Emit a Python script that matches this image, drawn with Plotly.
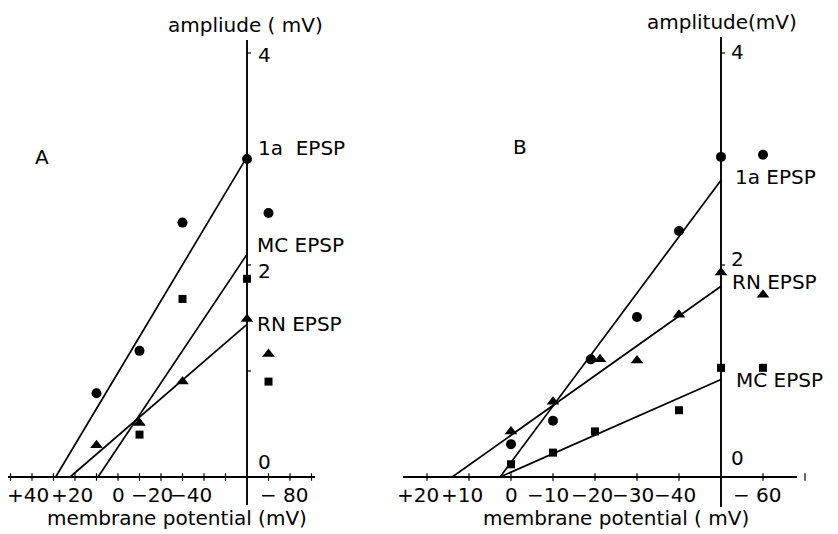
import plotly.graph_objects as go

# ---------------- data ----------------
# Panel A
a_1a_x = [-60, -70, -30, -10, 10]
a_1a_y = [3.00, 2.49, 2.40, 1.19, 0.79]
a_mc_x = [-60, -70, -30, -10]
a_mc_y = [1.87, 0.90, 1.68, 0.40]
a_rn_x = [-60, -70, -30, -10, 10]
a_rn_y = [1.49, 1.16, 0.90, 0.51, 0.30]
# fitted lines panel A (endpoints)
a_fit_1a_x = [29, -60]
a_fit_1a_y = [0, 3.02]
a_fit_mc_x = [9.3, -60]
a_fit_mc_y = [0, 2.10]
a_fit_rn_x = [22.3, -60]
a_fit_rn_y = [0, 1.44]

# Panel B
b_1a_x = [-50, -60, -40, -30, -19, -10, 0]
b_1a_y = [3.02, 3.04, 2.32, 1.51, 1.11, 0.53, 0.31]
b_mc_x = [-50, -60, -40, -20, -10, 0]
b_mc_y = [1.03, 1.03, 0.63, 0.43, 0.23, 0.12]
b_rn_x = [-50, -60, -40, -30, -19.3, -21.2, -10, 0]
b_rn_y = [1.93, 1.72, 1.53, 1.10, 1.11, 1.11, 0.71, 0.43]
b_fit_1a_x = [2.6, -50]
b_fit_1a_y = [0, 2.80]
b_fit_mc_x = [2.6, -50]
b_fit_mc_y = [0, 0.92]
b_fit_rn_x = [14, -50]
b_fit_rn_y = [0, 1.80]

# axes / ticks
a_xtick_vals = [40, 20, 0, -20, -40, -80]
a_xtick_text = ["+40", "+20", "0", "\u221220", "\u221240", "\u2212 80"]
b_xtick_vals = [20, 10, 0, -10, -20, -30, -40, -60]
b_xtick_text = ["+20", "+10", "0", "\u221210", "\u221220", "\u221230", "\u221240", "\u2212 60"]
ytick_vals = [0, 2, 4]
ytick_text = ["0", "2", "4"]
ytick_minor = [1, 2, 3, 4]
a_yaxis_at = -60
b_yaxis_at = -50

# ---------------- layout constants (pixels) ----------------
W, H = 838, 534
Y0PX, YPX = 477, 106.0           # y=0 pixel row, px per mV
A_X0PX, A_XPX = 118, 2.15        # panel A: px of x=0, px per mV
B_X0PX, B_XPX = 511, 4.2         # panel B
SPLIT = 377                      # pixel column splitting the two subplots

def xr(x0px, xpx, lpx, rpx):
    return [(x0px - lpx) / xpx, (x0px - rpx) / xpx]

yrange = [(Y0PX - H) / YPX, Y0PX / YPX]
FONT = "DejaVu Sans"
fs = 20

fig = go.Figure()

def add_panel(xa, fits, pts):
    for fx, fy in fits:
        fig.add_trace(go.Scatter(x=fx, y=fy, mode="lines", xaxis=xa, yaxis="y",
                                 line=dict(color="black", width=1.7),
                                 showlegend=False, hoverinfo="skip"))
    for (px_, py_, sym, sz) in pts:
        fig.add_trace(go.Scatter(x=px_, y=py_, mode="markers", xaxis=xa, yaxis="y",
                                 marker=dict(symbol=sym, size=sz, color="black"),
                                 showlegend=False, cliponaxis=False))

add_panel("x",
          [(a_fit_1a_x, a_fit_1a_y), (a_fit_mc_x, a_fit_mc_y), (a_fit_rn_x, a_fit_rn_y)],
          [(a_1a_x, a_1a_y, "circle", 10), (a_mc_x, a_mc_y, "square", 8),
           (a_rn_x, a_rn_y, "triangle-up", 11)])
add_panel("x2",
          [(b_fit_1a_x, b_fit_1a_y), (b_fit_mc_x, b_fit_mc_y), (b_fit_rn_x, b_fit_rn_y)],
          [(b_1a_x, b_1a_y, "circle", 10), (b_mc_x, b_mc_y, "square", 8),
           (b_rn_x, b_rn_y, "triangle-up", 11)])

shapes = []
annotations = []

def line(xref, x0, y0, x1, y1, w=1.9):
    shapes.append(dict(type="line", xref=xref, yref="y", x0=x0, y0=y0, x1=x1, y1=y1,
                       line=dict(color="black", width=w)))

def text(xref, x, y, t, xanchor="center", yanchor="middle", xshift=0, yshift=0, size=fs):
    annotations.append(dict(xref=xref, yref="y", x=x, y=y, text=t, showarrow=False,
                            xanchor=xanchor, yanchor=yanchor, xshift=xshift, yshift=yshift,
                            font=dict(family=FONT, size=size, color="black")))

def ypx(p):
    return (Y0PX - p) / YPX

# ---- panel A axes
axA = "x"
xa = lambda p: (A_X0PX - p) / A_XPX
line(axA, xa(8), 0, xa(315), 0)
line(axA, a_yaxis_at, ypx(40), a_yaxis_at, ypx(505))
for v in range(50, -91, -10):
    if v != a_yaxis_at:
        line(axA, v, -0.035, v, 0.035, 1.2)
for v in ytick_minor:
    line(axA, a_yaxis_at, v, a_yaxis_at - 4 / A_XPX, v, 1.2)
a_shift = [None, -3, 0, -9, -13, -6]
for v, t, s in zip(a_xtick_vals, a_xtick_text, a_shift):
    if s is None:
        text(axA, xa(5), ypx(495), t, xanchor="left")
    else:
        text(axA, v, ypx(495), t, xshift=s)
for v, t, yp in zip(ytick_vals, ytick_text, [462, 271, 55]):
    text(axA, a_yaxis_at, ypx(yp), t, xanchor="left", xshift=9)
text(axA, xa(245), ypx(25), "ampliude ( mV)")
text(axA, xa(177), ypx(518), "membrane potential (mV)")
text(axA, xa(42), ypx(157), "A")
text(axA, a_yaxis_at, ypx(148), "1a  EPSP", xanchor="left", xshift=9)
text(axA, a_yaxis_at, ypx(245), "MC EPSP", xanchor="left", xshift=8)
text(axA, a_yaxis_at, ypx(324), "RN EPSP", xanchor="left", xshift=8)

# ---- panel B axes
axB = "x2"
xb = lambda p: (B_X0PX - p) / B_XPX
line(axB, xb(403), 0, xb(797), 0)
line(axB, b_yaxis_at, ypx(37), b_yaxis_at, ypx(507))
for v in range(20, -71, -10):
    if v != b_yaxis_at:
        line(axB, v, -0.035, v, 0.035, 1.2)
for v in ytick_minor:
    line(axB, b_yaxis_at, v, b_yaxis_at - 4 / B_XPX, v, 1.2)
b_shift = [-9, -7, 0, -5, -3, -4, -4, -6]
for v, t, s in zip(b_xtick_vals, b_xtick_text, b_shift):
    text(axB, v, ypx(495), t, xshift=s)
for v, t, yp in zip(ytick_vals, ytick_text, [458, 259, 52]):
    text(axB, b_yaxis_at, ypx(yp), t, xanchor="left", xshift=8)
text(axB, xb(722), ypx(22), "amplitude(mV)")
text(axB, xb(616), ypx(518), "membrane potential ( mV)")
text(axB, xb(520), ypx(147), "B")
text(axB, b_yaxis_at, ypx(177), "1a EPSP", xanchor="left", xshift=12)
text(axB, b_yaxis_at, ypx(282), "RN EPSP", xanchor="left", xshift=9)
text(axB, b_yaxis_at, ypx(380), "MC EPSP", xanchor="left", xshift=13)

hidden = dict(visible=False, showgrid=False, zeroline=False, fixedrange=True)
fig.update_layout(
    width=W, height=H,
    margin=dict(l=0, r=0, t=0, b=0),
    paper_bgcolor="white", plot_bgcolor="white",
    xaxis=dict(domain=[0, SPLIT / W], range=xr(A_X0PX, A_XPX, 0, SPLIT), anchor="y", **hidden),
    xaxis2=dict(domain=[SPLIT / W, 1], range=xr(B_X0PX, B_XPX, SPLIT, W), anchor="y", **hidden),
    yaxis=dict(domain=[0, 1], range=yrange, anchor="x", **hidden),
    shapes=shapes,
    annotations=annotations,
    showlegend=False,
)

fig.write_html("out.html")
